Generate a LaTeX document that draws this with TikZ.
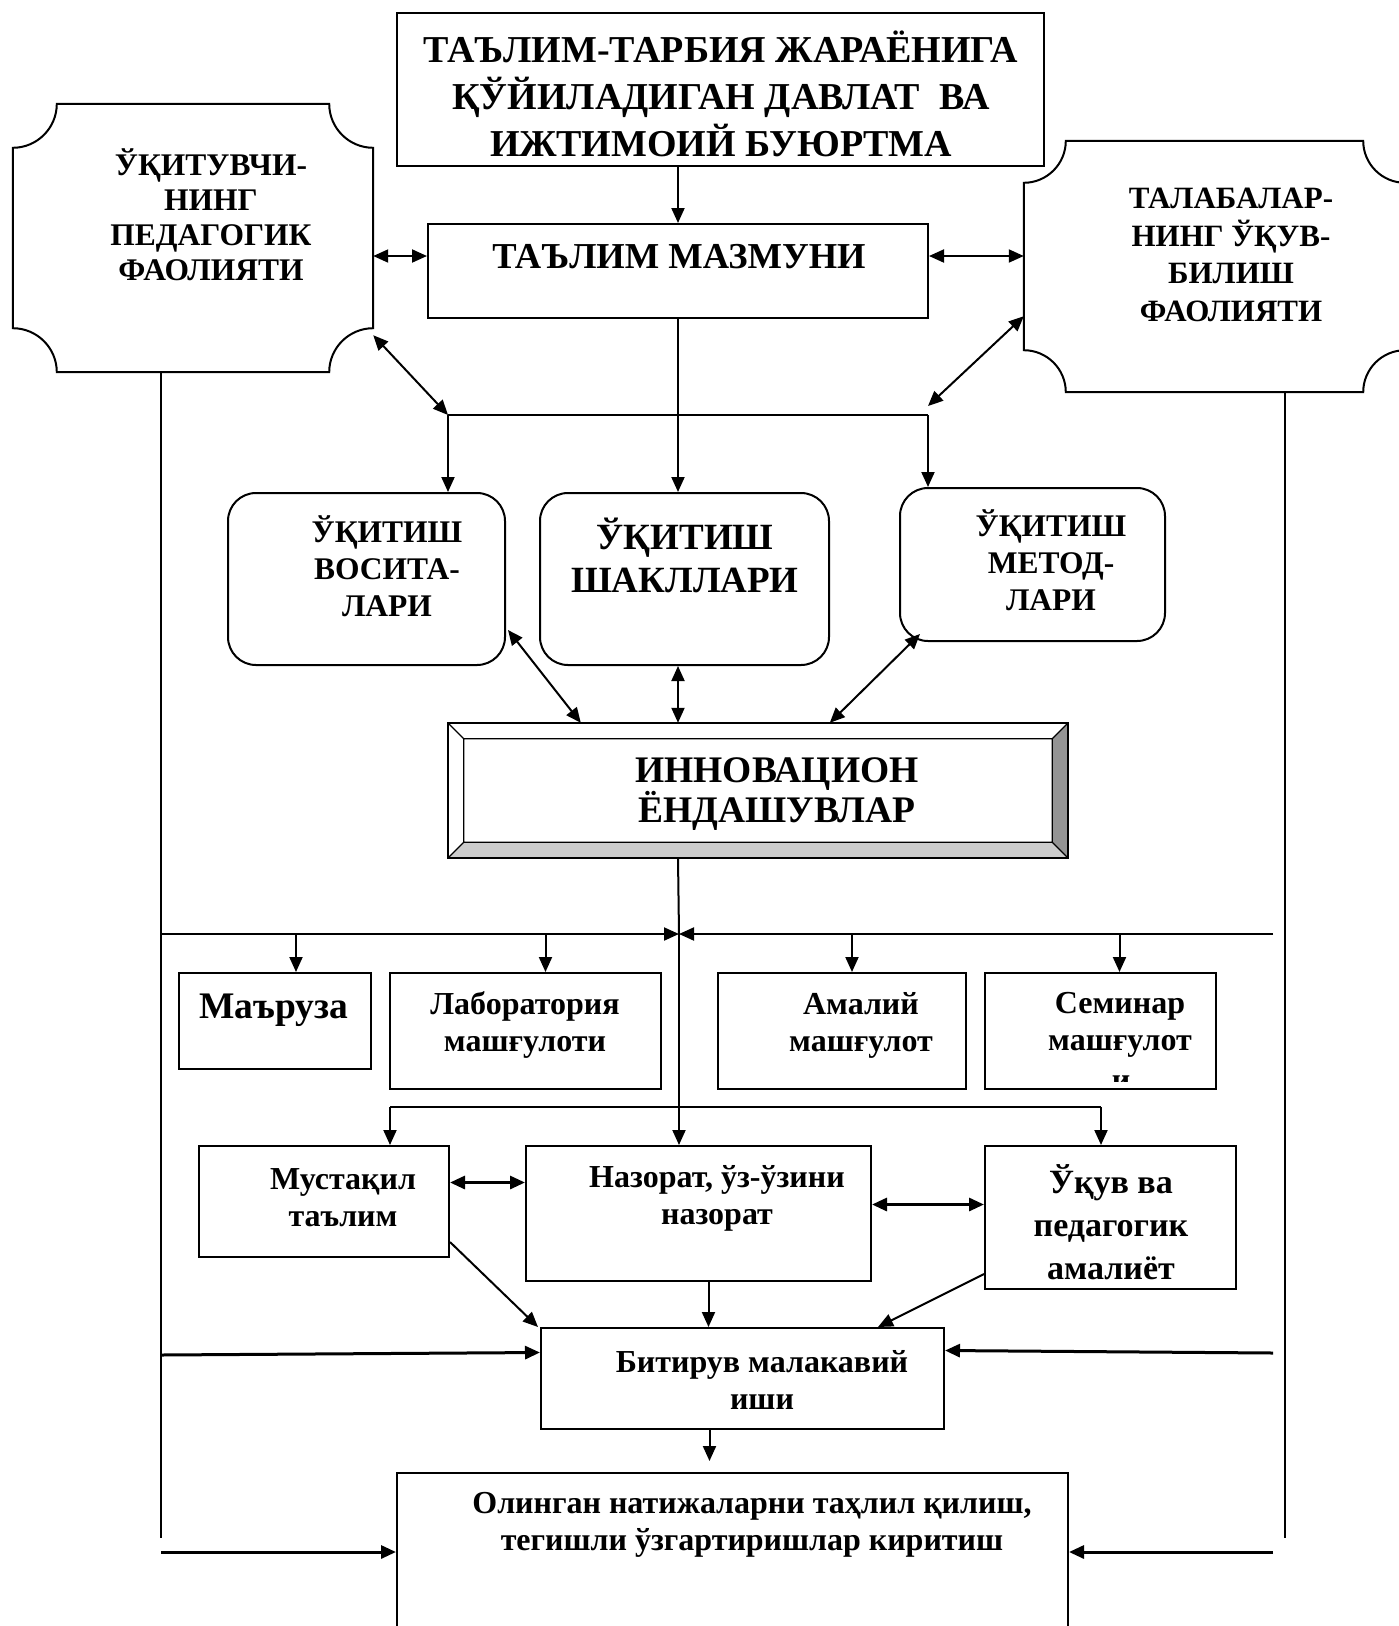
\documentclass[tikz,border=0pt]{standalone}
\usepackage{fontspec}
\setmainfont{Liberation Serif}
\usetikzlibrary{arrows.meta, positioning, calc}

% frame with hollow corners, drawn round an unframed node
\newcommand{\plaqueframe}[2]{%
  \draw[line width=2pt] let \p1=(#1.north west), \p2=(#1.south east) in
    (\x1+#2,\y1) -- (\x2-#2,\y1)
    .. controls (\x2-#2,\y1-0.552*#2) and (\x2-0.552*#2,\y1-#2) .. (\x2,\y1-#2)
    -- (\x2,\y2+#2)
    .. controls (\x2-0.552*#2,\y2+#2) and (\x2-#2,\y2+0.552*#2) .. (\x2-#2,\y2)
    -- (\x1+#2,\y2)
    .. controls (\x1+#2,\y2+0.552*#2) and (\x1+0.552*#2,\y2+#2) .. (\x1,\y2+#2)
    -- (\x1,\y1-#2)
    .. controls (\x1+0.552*#2,\y1-#2) and (\x1+#2,\y1-0.552*#2) .. cycle;}

\begin{document}
\begin{tikzpicture}[
    x=1pt, y=-1pt,
    frame/.style={rectangle, draw, line width=2pt, inner sep=0pt},
    rbox/.style={frame, rounded corners=28pt},
    blank/.style={rectangle, inner sep=0pt},
    txt/.style={align=center, inner sep=0pt, font=\bfseries\fontsize{32}{37}\selectfont},
    head/.style={txt, font=\bfseries\fontsize{38}{47}\selectfont},
    side/.style={txt, font=\bfseries\fontsize{31.5}{35}\selectfont},
    large/.style={txt, font=\bfseries\fontsize{37.5}{40}\selectfont},
    conn/.style={line width=2pt},
    arrow/.style={-{Triangle[length=15pt,width=13pt]}, conn},
    darrow/.style={{Triangle[length=15pt,width=13pt]}-{Triangle[length=15pt,width=13pt]}, conn},
    heavy/.style={line width=3pt}
]
\useasboundingbox (0,0) rectangle (1399,1626);

% Top level
\node[frame, minimum width=647pt, minimum height=153pt] (order) at (720.5,89.5) {};
\node[head] (orderT) at (721,94) {ТАЪЛИМ-ТАРБИЯ ЖАРАЁНИГА\\ҚЎЙИЛАДИГАН ДАВЛАТ\ \ ВА\\ИЖТИМОИЙ БУЮРТМА};

\node[frame, minimum width=500pt, minimum height=94pt] (content) at (678,271) {};
\node[head, font=\bfseries\fontsize{36.5}{40}\selectfont] (contentT) at (679,257) {ТАЪЛИМ МАЗМУНИ};

\node[blank, minimum width=360pt, minimum height=268pt] (teacher) at (193,238) {};
\plaqueframe{teacher}{44pt}
\node[side] (teacherT) at (211,215) {ЎҚИТУВЧИ-\\НИНГ\\ПЕДАГОГИК\\ФАОЛИЯТИ};

\node[blank, minimum width=381pt, minimum height=251pt] (student) at (1214.5,266.5) {};
\plaqueframe{student}{42pt}
\node[side, font=\bfseries\fontsize{31}{37.5}\selectfont] (studentT) at (1231,255) {ТАЛАБАЛАР-\\НИНГ ЎҚУВ-\\БИЛИШ\\ФАОЛИЯТИ};

% Teaching boxes
\node[rbox, minimum width=277pt, minimum height=172pt] (tools) at (366.5,579) {};
\node[txt, font=\bfseries\fontsize{31.5}{37}\selectfont] (toolsT) at (387,566) {ЎҚИТИШ\\ВОСИТА-\\ЛАРИ};
\node[rbox, minimum width=289pt, minimum height=172pt] (forms) at (684.5,579) {};
\node[large, font=\bfseries\fontsize{37}{43}\selectfont] (formsT) at (685,555) {ЎҚИТИШ\\ШАКЛЛАРИ};
\node[rbox, minimum width=265pt, minimum height=153pt] (methods) at (1032.5,564.5) {};
\node[txt, font=\bfseries\fontsize{31.5}{37}\selectfont] (methodsT) at (1051,560) {ЎҚИТИШ\\МЕТОД-\\ЛАРИ};

% Bevelled box
\node[blank, minimum width=620pt, minimum height=135pt] (innov) at (758,790.5) {};
\fill[black!42] let \p1=(innov.north west), \p2=(innov.south east) in
  (\x2,\y1) -- (\x2,\y2) -- (\x2-16pt,\y2+16pt) -- (\x2-16pt,\y1-16pt) -- cycle;
\fill[black!20] let \p1=(innov.north west), \p2=(innov.south east) in
  (\x1,\y2) -- (\x2,\y2) -- (\x2-16pt,\y2+16pt) -- (\x1+16pt,\y2+16pt) -- cycle;
\draw[line width=2.5pt] (innov.north west) rectangle (innov.south east);
\draw[line width=1.3pt] let \p1=(innov.north west), \p2=(innov.south east) in
  (\x1+16pt,\y1-16pt) rectangle (\x2-16pt,\y2+16pt)
  (\x1,\y1) -- (\x1+16pt,\y1-16pt) (\x2,\y1) -- (\x2-16pt,\y1-16pt)
  (\x1,\y2) -- (\x1+16pt,\y2+16pt) (\x2,\y2) -- (\x2-16pt,\y2+16pt);
\node[large] (innovT) at (777,794) {ИННОВАЦИОН\\ЁНДАШУВЛАР};

% Forms of classes
\node[frame, minimum width=192pt, minimum height=96pt] (lecture) at (275,1021) {};
\node[txt, font=\bfseries\fontsize{37.5}{40}\selectfont] (lectureT) at (274,1010) {Маъруза};
\node[frame, minimum width=271pt, minimum height=116pt] (lab) at (525.5,1031) {};
\node[txt] (labT) at (525,1025) {Лаборатория\\машғулоти};
\node[frame, minimum width=248pt, minimum height=116pt] (practical) at (842,1031) {};
\node[txt] (practicalT) at (861,1025) {Амалий\\машғулот};
\node[frame, minimum width=231pt, minimum height=116pt] (seminar) at (1100.5,1031) {};
\node[txt] (seminarT) at (1120,1025) {Семинар\\машғулот};
\begin{scope}
  \clip (990,1066) rectangle (1210,1081);
  \node[txt] (seminarI) at (1121,1083) {и};
\end{scope}

\node[frame, minimum width=250pt, minimum height=111pt] (self) at (324,1201.5) {};
\node[txt] (selfT) at (343,1198) {Мустақил\\таълим};
\node[frame, minimum width=345pt, minimum height=135pt] (control) at (698.5,1213.5) {};
\node[txt] (controlT) at (717,1198) {Назорат, ўз-ўзини\\назорат};
\node[frame, minimum width=251pt, minimum height=143pt] (training) at (1110.5,1217.5) {};
\node[txt, font=\bfseries\fontsize{34}{43}\selectfont] (trainingT) at (1111,1222) {Ўқув ва\\педагогик\\амалиёт};

\node[frame, minimum width=403pt, minimum height=101pt] (thesis) at (742.5,1378.5) {};
\node[txt] (thesisT) at (762,1380) {Битирув малакавий\\иши};

\node[frame, minimum width=671pt, minimum height=170pt] (result) at (732.5,1558) {};
\node[txt] (resultT) at (752,1525) {Олинган натижаларни таҳлил қилиш,\\тегишли ўзгартиришлар киритиш};

% Junction points
\coordinate (jl) at (448,415);
\coordinate (jr) at (928,415);
\coordinate (hl) at (161,934);
\coordinate (hc) at (679,934);
\coordinate (hr) at (1273,934);
\coordinate (bl) at (390,1107);
\coordinate (br) at (1101,1107);
\coordinate (lb) at (161,1538);
\coordinate (rb) at (1285,1538);

% Connections
\draw[arrow] (content.north |- order.south) -- (content.north);
\draw[darrow] ([yshift=15pt]content.west -| teacher.east) -- ([yshift=15pt]content.west);
\draw[darrow] ([yshift=15pt]content.east) -- ([yshift=15pt]content.east -| student.west);
\draw[darrow] ([yshift=37pt]teacher.south east) -- (jl);
\draw[darrow] ([yshift=76pt]student.south west) -- ([yshift=9pt]jr);
\draw[conn] (jl) -- (jr);
\draw[arrow] (jl) -- (jl |- tools.north);
\draw[arrow] (jr) -- (jr |- methods.north);
\draw[arrow] (content.south) -- (content.south |- forms.north);

\draw[darrow] ([shift={(2pt,36pt)}]tools.south east) -- ([xshift=133pt]innov.north west);
\draw[darrow] (content.south |- forms.south) -- (content.south |- innov.north);
\draw[darrow] ([shift={(21pt,8pt)}]methods.south west) -- ([xshift=382pt]innov.north west);

\draw[conn] (lb |- teacher.south) -- (lb);
\draw[conn] (rb |- student.south) -- (rb);
\draw[arrow] (hl) -- (hc);
\draw[arrow] (hr) -- (hc);
\draw[conn] (content.south |- innov.south) -- (hc);
\draw[arrow] (hc) -- (hc |- control.north);
\draw[arrow] ([xshift=21pt]lecture.north |- hl) -- ([xshift=21pt]lecture.north);
\draw[arrow] ([xshift=20pt]lab.north |- hl) -- ([xshift=20pt]lab.north);
\draw[arrow] ([xshift=10pt]practical.north |- hl) -- ([xshift=10pt]practical.north);
\draw[arrow] ([xshift=19pt]seminar.north |- hl) -- ([xshift=19pt]seminar.north);

\draw[conn] (bl) -- (br);
\draw[arrow] (bl) -- (bl |- self.north);
\draw[arrow] (br) -- (br |- training.north);

\draw[darrow, heavy] ([yshift=19pt]self.east) -- ([yshift=19pt]self.east -| control.west);
\draw[darrow, heavy] ([yshift=9pt]control.east) -- ([yshift=9pt]control.east -| training.west);
\draw[arrow] ([yshift=16pt]self.south east) -- ([xshift=-2pt]thesis.north west);
\draw[arrow] ([xshift=10pt]control.south) -- ([xshift=10pt]control.south |- thesis.north);
\draw[arrow] ([yshift=16pt]training.south west) -- ([xshift=338pt]thesis.north west);

\draw[arrow, heavy] (lb |- 0,1355) -- ([yshift=26pt]thesis.west);
\draw[arrow, heavy] (hr |- 0,1353) -- ([yshift=28pt]thesis.east);
\draw[arrow] ([xshift=-33pt]thesis.south) -- ([xshift=-33pt,yshift=11pt]thesis.south |- result.north);
\draw[arrow, heavy] (lb |- 0,1552) -- (lb |- 0,1552 -| result.west);
\draw[arrow, heavy] (hr |- 0,1552) -- (hr |- 0,1552 -| result.east);

\end{tikzpicture}
\end{document}
